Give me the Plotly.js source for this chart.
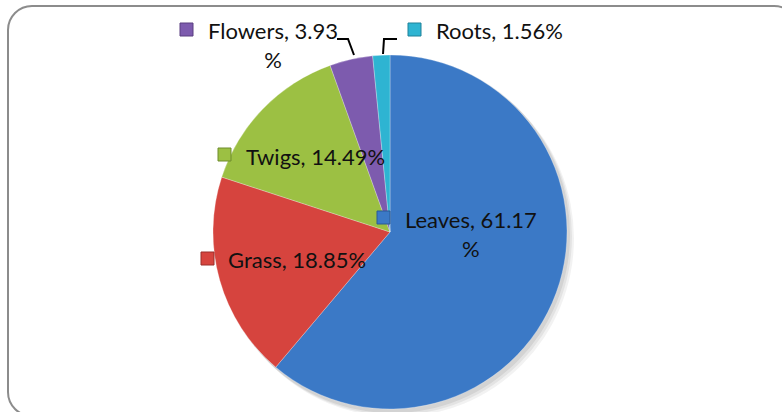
<!DOCTYPE html>
<html><head><meta charset="utf-8">
<script src="https://cdn.plot.ly/plotly-3.0.1.min.js"></script>
<style>html,body{margin:0;padding:0;background:#fff}#chart{width:782px;height:412px}</style>
</head><body><div id="chart"></div>
<script>
// ---- data ----
const categories = ["Leaves", "Grass", "Twigs", "Flowers", "Roots"];
const percents = [61.17, 18.85, 14.49, 3.93, 1.56];
const labelTexts = ["Leaves, 61.17<br>%", "Grass, 18.85%", "Twigs, 14.49%", "Flowers, 3.93<br>%", "Roots, 1.56%"];
const colors = ["#3B79C6", "#D6443E", "#9CC043", "#7D5BAE", "#2EB4D2"];
const keyBorders = ["#2B5A94", "#9A2F2B", "#6F8C2C", "#5A3F80", "#1F8199"];

// ---- layout helpers (pixel -> paper) ----
const W = 782, H = 412;
const px = x => x / W, py = y => 1 - y / H;

// label placement (pixels): square left/top, text left, text center y
const labelPos = {
  Leaves:  {sq:[377,211], tx:403, ty:234},
  Grass:   {sq:[201,252], tx:226, ty:259},
  Twigs:   {sq:[218,148], tx:244, ty:156},
  Flowers: {sq:[180,23],  tx:206, ty:45},
  Roots:   {sq:[408,23],  tx:434, ty:31}
};

const shapes = [];
const annotations = [];

// rounded border
(function(){
  const L=8, T=6, R=798, B=416, r=24, k=0.5523*r;
  const pt=(x,y)=>px(x)+','+py(y);
  const d = 'M'+pt(L,T+r)+' C'+pt(L,T+r-k)+' '+pt(L+r-k,T)+' '+pt(L+r,T)+
    ' L'+pt(R-r,T)+' C'+pt(R-r+k,T)+' '+pt(R,T+r-k)+' '+pt(R,T+r)+
    ' L'+pt(R,B-r)+' C'+pt(R,B-r+k)+' '+pt(R-r+k,B)+' '+pt(R-r,B)+
    ' L'+pt(L+r,B)+' C'+pt(L+r-k,B)+' '+pt(L,B-r+k)+' '+pt(L,B-r)+' Z';
  shapes.push({type:'path', xref:'paper', yref:'paper', path:d, line:{color:'#8C8C8C', width:2}, fillcolor:'rgba(0,0,0,0)', layer:'below'});
})();

// soft shadow under pie
[ [6,0.05],[4,0.06],[2,0.07] ].forEach(([o,a])=>{
  shapes.push({type:'circle', xref:'paper', yref:'paper', layer:'below',
    x0:px(213+o), x1:px(567+o+1), y0:py(410+o+1), y1:py(54+o), fillcolor:'rgba(0,0,0,'+a+')', line:{width:0}});
});

// leader lines
function seg(pts){
  let d='M'+px(pts[0][0])+','+py(pts[0][1]);
  for(let i=1;i<pts.length;i++) d+=' L'+px(pts[i][0])+','+py(pts[i][1]);
  shapes.push({type:'path', xref:'paper', yref:'paper', path:d, line:{color:'#000', width:2}});
}
seg([[337,39],[348,39],[354,55]]);
seg([[397,39],[384,39],[383,54]]);

categories.forEach((c,i)=>{
  const p = labelPos[c];
  const s = 13;
  shapes.push({type:'rect', xref:'paper', yref:'paper',
    x0:px(p.sq[0]), x1:px(p.sq[0]+s), y0:py(p.sq[1]+s), y1:py(p.sq[1]),
    fillcolor:colors[i], line:{color:keyBorders[i], width:1}});
  annotations.push({xref:'paper', yref:'paper', x:px(p.tx), y:py(p.ty),
    xanchor:'left', yanchor:'middle', align:'center', showarrow:false,
    text:labelTexts[i], font:{family:'Lato, sans-serif', size:22, color:'#111'}});
});

const data = [{
  type:'pie', labels:categories, values:percents, sort:false, direction:'clockwise', rotation:0,
  marker:{colors:colors, line:{color:'rgba(255,255,255,0.35)', width:0.8}},
  textinfo:'none', hoverinfo:'label+percent', showlegend:false,
  domain:{x:[px(213), px(567)], y:[py(410), py(54)]}
}];

const layout = {
  width:W, height:H, margin:{l:0,r:0,t:0,b:0},
  paper_bgcolor:'#fff', showlegend:false,
  shapes:shapes, annotations:annotations
};
Plotly.newPlot('chart', data, layout, {displayModeBar:false, staticPlot:true});
</script></body></html>
